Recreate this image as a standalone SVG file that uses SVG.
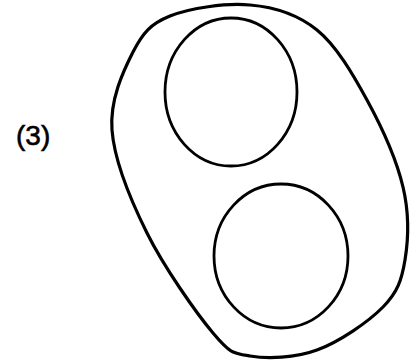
<svg xmlns="http://www.w3.org/2000/svg" width="417" height="361" viewBox="0 0 417 361">
<style>
.ln{fill:none;stroke:#000;stroke-linecap:round;stroke-linejoin:round}
.lbl{font-family:"Liberation Sans","DejaVu Sans",sans-serif;font-size:28px;fill:#000;stroke:#000;stroke-width:0.6}
</style>
<rect width="417" height="361" fill="#fff"/>
<g id="outer">
<path class="ln" stroke-width="3.2" d="M133,52 C142.7,33 150.5,23.8 170,16 C189.5,8.2 225.5,2.7 250,5 C276.2,7.2 297.5,14.2 317,30 C336.5,45.8 352.7,73.8 367,100 C381.3,126.2 396.7,160.3 403,187 C409.3,213.7 408.3,240 405,260 C401.7,280 397.7,292 383,307 C368.3,322 339.2,341.8 317,350 C294.8,358.2 267.3,358.8 250,356 C232.7,353.2 230.2,353.5 213,333 C195.8,312.5 163.8,266.8 147,233 C130.2,199.2 114.3,160.2 112,130 C109.7,99.8 123.3,71 133,52 Z"/>
</g>
<g id="circle-top">
<ellipse class="ln" stroke-width="2.8" cx="231" cy="92" rx="66" ry="74"/>
</g>
<g id="circle-bottom">
<ellipse class="ln" stroke-width="2.8" cx="281" cy="256" rx="67" ry="72"/>
</g>
<g id="label">
<text class="lbl" x="16" y="145">(3)</text>
</g>
</svg>
